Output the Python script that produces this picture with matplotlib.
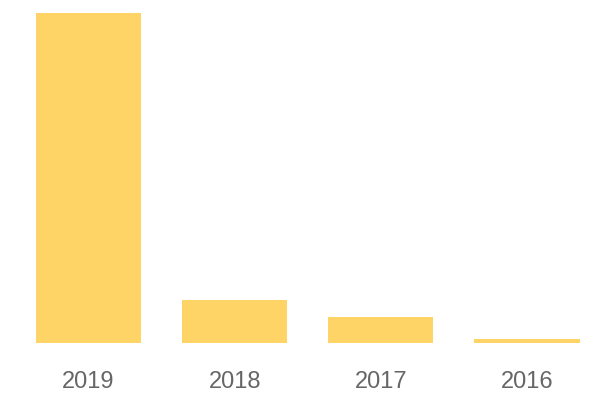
import matplotlib.pyplot as plt

years = ['2019', '2018', '2017', '2016']
values = [330, 43, 25.7, 4]

fig = plt.figure(figsize=(6, 4), dpi=100)
ax = fig.add_axes([15.5 / 600, 57 / 400, 584.5 / 600, 330 / 400])

ax.bar(range(len(years)), values, width=0.72, color='#FFD466')
ax.set_xlim(-0.5, 3.5)
ax.set_ylim(0, max(values))

ax.set_xticks(range(len(years)))
ax.set_xticklabels(years, fontsize=17, color='#666666', family='Liberation Sans')
ax.tick_params(axis='x', length=0, pad=20)
ax.set_yticks([])
for s in ax.spines.values():
    s.set_visible(False)

fig.savefig('out.png', dpi=100)
